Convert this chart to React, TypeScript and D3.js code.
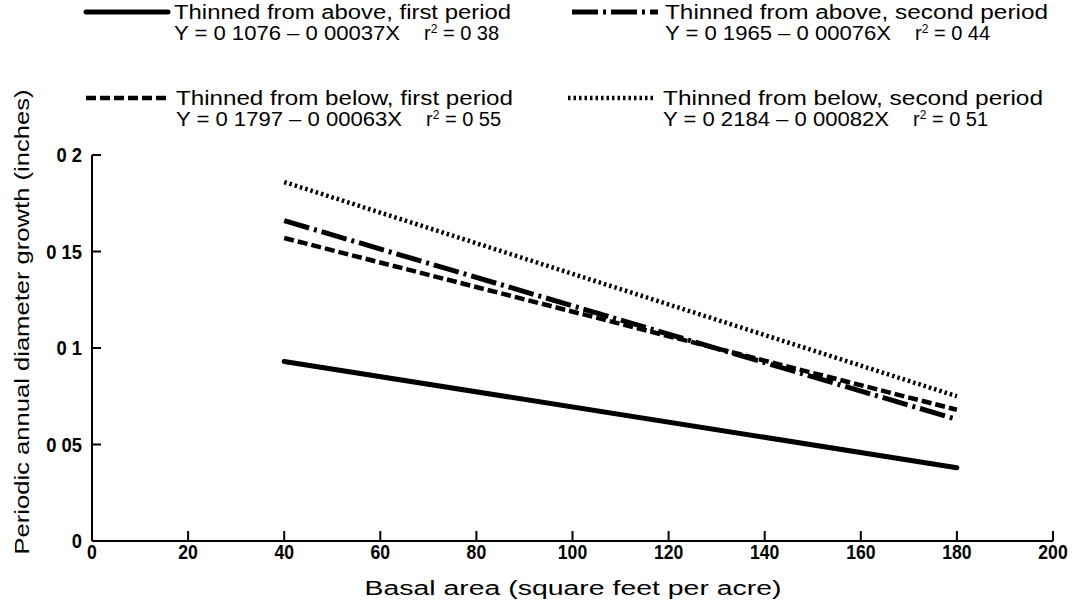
import React from "react";
import * as d3 from "d3";

const basalArea = [40, 180];
const aboveFirst = [0.093, 0.038];
const aboveSecond = [0.166, 0.063];
const belowFirst = [0.157, 0.068];
const belowSecond = [0.186, 0.075];

const xTicks = [0, 20, 40, 60, 80, 100, 120, 140, 160, 180, 200];
const yTicks = [0, 0.05, 0.1, 0.15, 0.2];
const yTickLabels = ["0", "0 05", "0 1", "0 15", "0 2"];

const seriesNames = [
  "Thinned from above, first period",
  "Thinned from above, second period",
  "Thinned from below, first period",
  "Thinned from below, second period",
];
const seriesEquations = [
  "Y = 0 1076 \u2013 0 00037X",
  "Y = 0 1965 \u2013 0 00076X",
  "Y = 0 1797 \u2013 0 00063X",
  "Y = 0 2184 \u2013 0 00082X",
];
const seriesR2 = ["0 38", "0 44", "0 55", "0 51"];

const W = 1085;
const H = 603;
const font = "Liberation Sans, Arial, Helvetica, sans-serif";

const styles = [
  { width: 5, dash: "none", cap: "round" },
  { width: 5, dash: "26 5 3 5", cap: "butt" },
  { width: 4.5, dash: "10 4", cap: "butt" },
  { width: 4.5, dash: "2.5 3", cap: "butt" },
];

export default function App() {
  const x = d3.scaleLinear().domain([0, 200]).range([92, 1053]);
  const y = d3.scaleLinear().domain([0, 0.2]).range([541, 155]);
  const data = [aboveFirst, aboveSecond, belowFirst, belowSecond];
  const line = d3
    .line<number>()
    .x((_, i) => x(basalArea[i]))
    .y((d) => y(d));

  const legendPos = [
    { lx0: 86, lx1: 168, tx: 174, by: 19, tw: 337 },
    { lx0: 572, lx1: 658, tx: 665, by: 19, tw: 383 },
    { lx0: 86, lx1: 170, tx: 176, by: 105, tw: 337 },
    { lx0: 568, lx1: 653, tx: 663, by: 105, tw: 380 },
  ];

  return (
    <svg
      width={W}
      height={H}
      style={{ position: "absolute", left: 0, top: 0, background: "#fff" }}
    >
      <rect x={0} y={0} width={W} height={H} fill="#fff" />
      {/* axes */}
      <line x1={x(0)} x2={x(200)} y1={y(0)} y2={y(0)} stroke="#000" strokeWidth={2} />
      <line x1={x(0)} x2={x(0)} y1={y(0)} y2={y(0.2)} stroke="#000" strokeWidth={2} />
      {xTicks.map((t) => (
        <g key={"xt" + t}>
          {t > 0 && (
            <line x1={x(t)} x2={x(t)} y1={y(0)} y2={y(0) - 10} stroke="#000" strokeWidth={2} />
          )}
          <text
            transform={`translate(${x(t)},${y(0) + 18}) scale(0.88,1)`}
            textAnchor="middle"
            fontFamily={font}
            fontWeight="bold"
            fontSize={20}
          >
            {t}
          </text>
        </g>
      ))}
      {yTicks.map((t, i) => (
        <g key={"yt" + t}>
          {t > 0 && (
            <line x1={x(0)} x2={x(0) + 9} y1={y(t)} y2={y(t)} stroke="#000" strokeWidth={2} />
          )}
          <text
            transform={`translate(${x(0) - 10},${y(t) + 7}) scale(0.92,1)`}
            textAnchor="end"
            fontFamily={font}
            fontWeight="bold"
            fontSize={20}
          >
            {yTickLabels[i]}
          </text>
        </g>
      ))}
      {/* axis titles */}
      <text
        x={573}
        y={595}
        textAnchor="middle"
        fontFamily={font}
        fontSize={20}
        textLength={417}
        lengthAdjust="spacingAndGlyphs"
      >
        Basal area  (square feet per acre)
      </text>
      <text
        transform={`translate(29,322) rotate(-90)`}
        textAnchor="middle"
        fontFamily={font}
        fontSize={20}
        textLength={465}
        lengthAdjust="spacingAndGlyphs"
      >
        Periodic annual diameter growth (inches)
      </text>
      {/* series */}
      {data.map((d, i) => (
        <path
          key={"s" + i}
          d={line(d) || ""}
          fill="none"
          stroke="#000"
          strokeWidth={styles[i].width}
          strokeDasharray={styles[i].dash}
          strokeLinecap={styles[i].cap as any}
        />
      ))}
      {/* legend */}
      {seriesNames.map((name, i) => {
        const p = legendPos[i];
        return (
          <g key={"lg" + i}>
            <line
              x1={p.lx0}
              x2={p.lx1}
              y1={p.by - 7}
              y2={p.by - 7}
              stroke="#000"
              strokeWidth={styles[i].width}
              strokeDasharray={styles[i].dash}
              strokeLinecap={styles[i].cap as any}
            />
            <text
              x={p.tx}
              y={p.by}
              fontFamily={font}
              fontSize={20}
              textLength={p.tw}
              lengthAdjust="spacingAndGlyphs"
            >
              {name}
            </text>
            <text x={p.tx} y={p.by + 21} fontFamily={font} fontSize={20}>
              <tspan textLength={226} lengthAdjust="spacingAndGlyphs">
                {seriesEquations[i]}
              </tspan>
              <tspan x={p.tx + 250}>r</tspan>
              <tspan fontSize={12} dy={-7}>2</tspan>
              <tspan dy={7}>{" = " + seriesR2[i]}</tspan>
            </text>
          </g>
        );
      })}
    </svg>
  );
}
